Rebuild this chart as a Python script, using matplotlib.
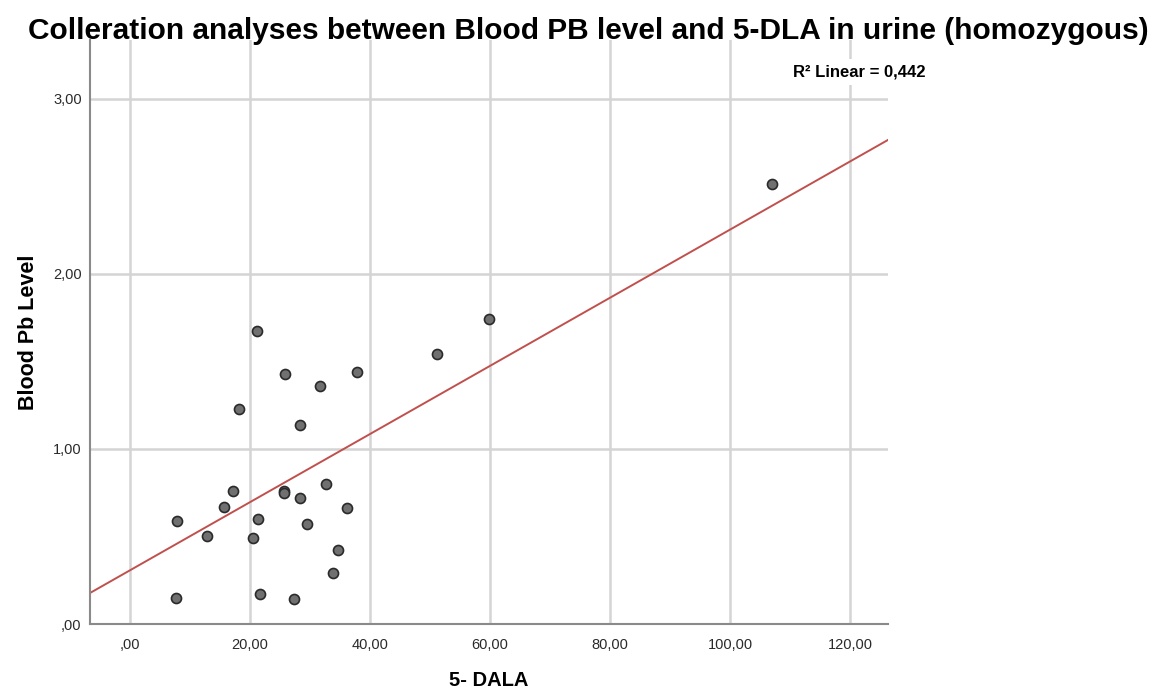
import numpy as np
import matplotlib.pyplot as plt
from matplotlib.ticker import FuncFormatter

plt.rcParams['font.family'] = ['Liberation Sans', 'DejaVu Sans']

# 5-DALA in urine vs blood Pb level (homozygous group)
dala = [21.1, 25.8, 37.9, 31.6, 18.1, 28.4, 17.2, 25.7, 25.7, 32.7, 28.4,
        15.6, 36.2, 7.8, 21.3, 29.5, 12.9, 20.5, 34.7, 33.9, 7.7, 21.6,
        27.4, 59.8, 51.2, 107.0]
pb = [1.676, 1.427, 1.438, 1.358, 1.229, 1.139, 0.760, 0.760, 0.747, 0.800,
      0.718, 0.669, 0.661, 0.590, 0.600, 0.570, 0.501, 0.490, 0.421, 0.290,
      0.150, 0.171, 0.141, 1.740, 1.543, 2.514]

# linear fit as reported by the stats package
fit_intercept = 0.307
fit_slope = 0.01947
r2_label = "R² Linear = 0,442"

x_ticks = [0, 20, 40, 60, 80, 100, 120]
y_ticks = [0, 1, 2, 3]


def comma_fmt(v, pos):
    s = f"{v:.2f}".replace('.', ',')
    if s.startswith('0,'):
        s = s[1:]
    return s


fig = plt.figure(figsize=(11.52, 6.92), dpi=100)
ax = fig.add_axes([90 / 1152, 68 / 692, 798 / 1152, 584 / 692])

xlim = (-6.67, 126.3)
ax.set_xlim(*xlim)
ax.set_ylim(0, 3.337)

ax.set_xticks(x_ticks)
ax.set_yticks(y_ticks)
ax.xaxis.set_major_formatter(FuncFormatter(comma_fmt))
ax.yaxis.set_major_formatter(FuncFormatter(comma_fmt))
ax.tick_params(length=0, labelsize=10.5, colors='#2a2a2a')
ax.tick_params(axis='x', pad=10)
ax.tick_params(axis='y', pad=6)
ax.grid(True, color='#d4d4d4', linewidth=1.8)
ax.set_axisbelow(True)

for side in ['top', 'right']:
    ax.spines[side].set_visible(False)
for side in ['left', 'bottom']:
    ax.spines[side].set_color('#8a8a8a')
    ax.spines[side].set_linewidth(1.5)

xs = np.array(xlim)
ax.plot(xs, fit_intercept + fit_slope * xs, color='#c0504d', linewidth=1.4, zorder=2)

ax.scatter(dala, pb, s=52, facecolor='#707070', edgecolor='#2a2a2a',
           linewidth=1.2, zorder=3)

ax.text(110.5, 3.154, r2_label, fontsize=12, fontweight='bold',
        ha='left', va='center', clip_on=False, zorder=4,
        bbox=dict(facecolor='white', edgecolor='none', pad=4))

ax.set_xlabel("5- DALA", fontsize=14.5, fontweight='bold', labelpad=14)
ax.set_ylabel("Blood Pb Level", fontsize=15.5, fontweight='bold', labelpad=10)

fig.text(0.511, 0.955, "Colleration analyses between Blood PB level and 5-DLA in urine (homozygous)",
         ha='center', va='center', fontsize=21.5, fontweight='bold')

plt.savefig("out.png", dpi=100)
